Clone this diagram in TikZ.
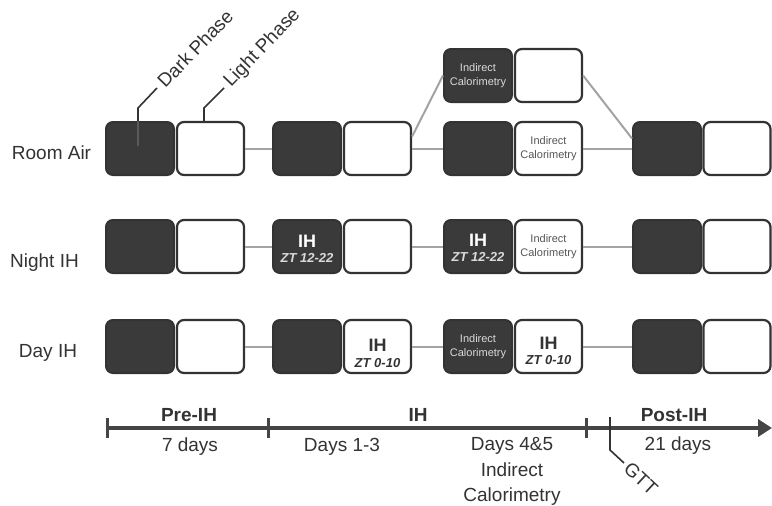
\documentclass[tikz,border=0pt]{standalone}
\usepackage{fontspec}
\setmainfont{Liberation Sans}
\usetikzlibrary{arrows.meta,calc}
\definecolor{boxdark}{HTML}{3A3A3A}
\definecolor{boxedge}{HTML}{333333}
\definecolor{conn}{HTML}{A3A3A3}
\definecolor{axiscol}{HTML}{454545}
\definecolor{txt}{HTML}{333333}
\definecolor{lighttxt}{HTML}{DADADA}
\definecolor{graytxt}{HTML}{555555}
\definecolor{innerlead}{HTML}{5A5A5A}
\begin{document}
\begin{tikzpicture}[x=1pt,y=-1pt,
  darkbox/.style={draw=boxedge, fill=boxdark, line width=2pt, rounded corners=7pt,
    minimum width=68pt, minimum height=53pt, inner sep=0pt, text=white, align=center},
  lightbox/.style={draw=boxedge, fill=white, line width=2.2pt, rounded corners=7pt,
    minimum width=67pt, minimum height=53pt, inner sep=0pt, text=txt, align=center},
  link/.style={draw=conn, line width=2pt},
  leader/.style={draw=boxedge, line width=1.6pt},
  axisline/.style={draw=axiscol, line width=3.5pt},
  big/.style={font=\fontsize{19}{24}\selectfont, text=txt, inner sep=0pt},
  bigb/.style={font=\fontsize{19}{24}\selectfont\bfseries, text=txt, inner sep=0pt},
  ictext/.style={font=\fontsize{11}{14}\selectfont},
  ihtext/.style={align=center, inner sep=0pt}
]
\useasboundingbox (0,0) rectangle (772,506);
\fill[white] (0,0) rectangle (772,506);

% ---------- top (alternative) row ----------
\node[darkbox, text=lighttxt, ictext] (t3d) at (478,75.5) {Indirect\\Calorimetry};
\node[lightbox] (t3l) at (548.5,75.5) {};

% ---------- Room Air ----------
\node[darkbox] (a1d) at (140,148.5) {};
\node[lightbox] (a1l) at (210.5,148.5) {};
\node[darkbox] (a2d) at (307,148.5) {};
\node[lightbox] (a2l) at (377.5,148.5) {};
\node[darkbox] (a3d) at (478,148.5) {};
\node[lightbox, text=graytxt, ictext] (a3l) at (548.5,148.5) {Indirect\\Calorimetry};
\node[darkbox] (a4d) at (667,148.5) {};
\node[lightbox] (a4l) at (737,148.5) {};

% ---------- Night IH ----------
\node[darkbox] (n1d) at (140,246.5) {};
\node[lightbox] (n1l) at (210.5,246.5) {};
\node[darkbox] (n2d) at (307,246.5) {};
\node[ihtext, text=white] (n2t) at ($(n2d.center)+(0,2)$)
  {{\fontsize{18}{18}\selectfont\bfseries IH}\\[3pt]{\color{lighttxt}\fontsize{13}{13}\selectfont\bfseries\itshape ZT 12-22}};
\node[lightbox] (n2l) at (377.5,246.5) {};
\node[darkbox] (n3d) at (478,246.5) {};
\node[ihtext, text=white] (n3t) at ($(n3d.center)+(0,1)$)
  {{\fontsize{18}{18}\selectfont\bfseries IH}\\[3pt]{\color{lighttxt}\fontsize{13}{13}\selectfont\bfseries\itshape ZT 12-22}};
\node[lightbox, text=graytxt, ictext] (n3l) at (548.5,246.5) {Indirect\\Calorimetry};
\node[darkbox] (n4d) at (667,246.5) {};
\node[lightbox] (n4l) at (737,246.5) {};

% ---------- Day IH ----------
\node[darkbox] (d1d) at (140,346.5) {};
\node[lightbox] (d1l) at (210.5,346.5) {};
\node[darkbox] (d2d) at (307,346.5) {};
\node[lightbox] (d2l) at (377.5,346.5) {};
\node[ihtext, text=txt] (d2t) at ($(d2l.center)+(0,7)$)
  {{\fontsize{18}{18}\selectfont\bfseries IH}\\[4pt]{\fontsize{13}{13}\selectfont\bfseries\itshape ZT 0-10}};
\node[darkbox, text=lighttxt, ictext] (d3d) at (478,346.5) {Indirect\\Calorimetry};
\node[lightbox] (d3l) at (548.5,346.5) {};
\node[ihtext, text=txt] (d3t) at ($(d3l.center)+(0,4)$)
  {{\fontsize{18}{18}\selectfont\bfseries IH}\\[3pt]{\fontsize{13}{13}\selectfont\bfseries\itshape ZT 0-10}};
\node[darkbox] (d4d) at (667,346.5) {};
\node[lightbox] (d4l) at (737,346.5) {};

% ---------- connectors ----------
\draw[link] (a1l.east) -- (a2d.west);
\draw[link] (a2l.east) -- (a3d.west);
\draw[link] (a3l.east) -- (a4d.west);
\draw[link] ($(a2l.east)+(0,-12)$) -- (t3d.west);
\draw[link] (t3l.east) -- ($(a4d.west)+(0,-10)$);
\draw[link] (n1l.east) -- (n2d.west);
\draw[link] (n2l.east) -- (n3d.west);
\draw[link] (n3l.east) -- (n4d.west);
\draw[link] (d1l.east) -- (d2d.west);
\draw[link] (d2l.east) -- (d3d.west);
\draw[link] (d3l.east) -- (d4d.west);

% ---------- row labels ----------
\node[big, anchor=base] (lra) at (51.5,159) {Room Air};
\node[big, anchor=base] (lni) at (44.5,267) {Night IH};
\node[big, anchor=base] (lda) at (48,357) {Day IH};

% ---------- phase leaders ----------
\coordinate (dk0) at (138,146);
\coordinate (dk1) at (138,108);
\coordinate (dk2) at (157,88);
\draw[leader, draw=innerlead] (dk0) -- (a1d.north -| dk0);
\draw[leader] (a1d.north -| dk0) -- (dk1) -- (dk2);
\node[big, anchor=west, rotate=46, xshift=5pt] (ldk) at (dk2) {Dark Phase};
\coordinate (lt1) at (204,108);
\coordinate (lt2) at (224,88);
\draw[leader] (a1l.north -| lt1) -- (lt1) -- (lt2);
\node[big, anchor=west, rotate=46, xshift=5pt] (llt) at (lt2) {Light Phase};

% ---------- timeline ----------
\coordinate (ax0) at (107,428);
\coordinate (ax1) at (268,428);
\coordinate (ax2) at (586,428);
\coordinate (axe) at (772,428);
\draw[axisline, -{Triangle[length=14pt,width=17pt]}] (ax0) -- (axe);
\foreach \c in {ax0,ax1,ax2} {
  \draw[axisline, line width=3pt] ($(\c)+(0,-10)$) -- ($(\c)+(0,10)$);
}
\node[bigb, anchor=base] (pre) at (189,421) {Pre-IH};
\node[bigb, anchor=base] (ih) at (418,421) {IH};
\node[bigb, anchor=base] (post) at (674,421) {Post-IH};
\node[big, anchor=base] (d7) at (190,451) {7 days};
\node[big, anchor=base] (d13) at (342,451) {Days 1-3};
\node[big, anchor=base] (d45) at (512,450) {Days 4\&5};
\node[big, anchor=base] (ic1) at (512,476) {Indirect};
\node[big, anchor=base] (ic2) at (512,501) {Calorimetry};
\node[big, anchor=base] (d21) at (678,450) {21 days};

% GTT marker
\coordinate (g0) at (610,417);
\coordinate (g1) at (610,450);
\coordinate (g2) at (624,463);
\draw[leader] (g0) -- (g1) -- (g2);
\node[big, anchor=west, rotate=-43, xshift=4pt] (gtt) at (g2) {GTT};
\end{tikzpicture}
\end{document}
